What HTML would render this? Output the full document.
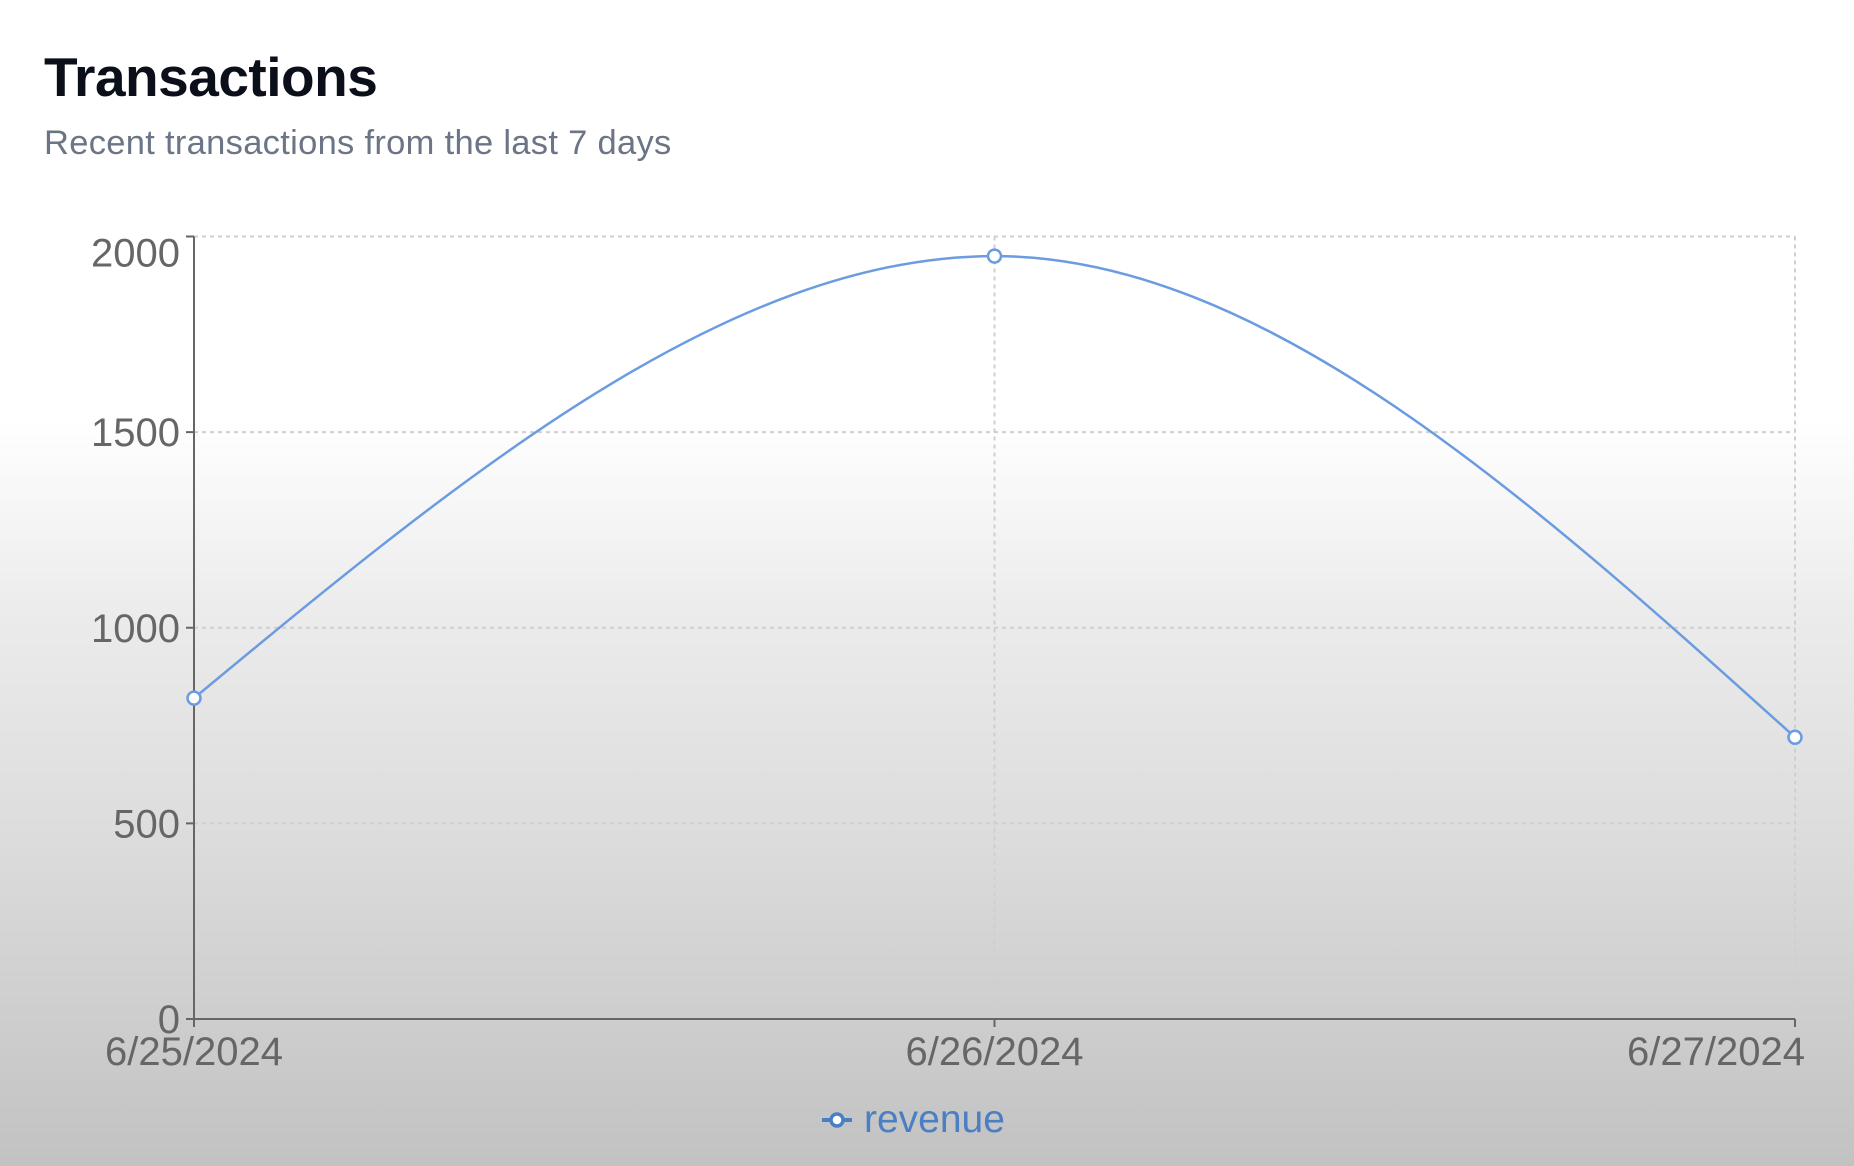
<!DOCTYPE html>
<html><head><meta charset="utf-8">
<style>
html,body{margin:0;padding:0}
body{width:1854px;height:1166px;overflow:hidden;font-family:"Liberation Sans",sans-serif;
background:linear-gradient(#ffffff 0%,#ffffff 36%,#ececec 52%,#dcdcdc 72%,#cdcdcd 88%,#c2c2c2 100%);position:relative}
#title{position:absolute;left:44px;top:45px;font-size:55px;font-weight:bold;color:#0b0f19;letter-spacing:-0.5px;margin:0}
#sub{position:absolute;left:44px;top:124px;font-size:34.5px;color:#6b7585;margin:0;letter-spacing:0.3px}
svg{position:absolute;left:0;top:0}
</style></head>
<body>
<h1 id="title">Transactions</h1>
<p id="sub">Recent transactions from the last 7 days</p>
<svg id="chart" width="1854" height="1166"></svg>
<script>
const categories = ["6/25/2024","6/26/2024","6/27/2024"];
const revenue = [820, 1950, 720];
const yTicks = [0, 500, 1000, 1500, 2000];
const seriesName = "revenue";

const NS="http://www.w3.org/2000/svg";
const svg=document.getElementById('chart');
const L=194,R=1795,T=236.5,B=1019,YMAX=2000;
const xs=i=>L+(R-L)*i/(categories.length-1);
const ys=v=>B-(B-T)*v/YMAX;
function mk(tag,attrs,parent){const e=document.createElementNS(NS,tag);for(const k in attrs)e.setAttribute(k,attrs[k]);(parent||svg).appendChild(e);return e;}

const grid=mk('g',{});


yTicks.forEach(v=>{if(v===0)return;const l=mk('line',{x1:L,x2:R,y1:ys(v),y2:ys(v),stroke:'#cfcfcf','stroke-width':2,'stroke-dasharray':'4 4'},grid);

});
categories.forEach((c,i)=>{if(i===0)return;const l=mk('line',{x1:xs(i),x2:xs(i),y1:T,y2:B,stroke:'#cfcfcf','stroke-width':2,'stroke-dasharray':'4 4'},grid);

});

const ya=mk('g',{});


mk('line',{x1:L,x2:L,y1:T,y2:B,stroke:'#666','stroke-width':2},ya);
yTicks.forEach(v=>{mk('line',{x1:L-8,x2:L,y1:ys(v),y2:ys(v),stroke:'#666','stroke-width':2},ya);
const t=mk('text',{x:L-14,y:(v===YMAX?ys(v)+16:ys(v))+14,'text-anchor':'end','font-size':40,fill:'#666'},ya);t.textContent=v;

});
const xa=mk('g',{});


mk('line',{x1:L,x2:R,y1:B,y2:B,stroke:'#666','stroke-width':2},xa);
categories.forEach((c,i)=>{mk('line',{x1:xs(i),x2:xs(i),y1:B,y2:B+8,stroke:'#666','stroke-width':2},xa);
let anchor='middle',x=xs(i);if(i===categories.length-1){anchor='end';x=R+10;}
const t=mk('text',{x:x,y:B+46,'text-anchor':anchor,'font-size':40,fill:'#666'},xa);t.textContent=c;

});

function monotone(px,py){const n=px.length;const m=[],d=[];
for(let i=0;i<n-1;i++)d.push((py[i+1]-py[i])/(px[i+1]-px[i]));
for(let i=0;i<n;i++){if(i===0||i===n-1)m.push(0);else{const a=d[i-1],b=d[i];if(a*b<=0)m.push(0);else{const h0=px[i]-px[i-1],h1=px[i+1]-px[i];const p=(a*h1+b*h0)/(h0+h1);m.push((Math.sign(a)+Math.sign(b))*Math.min(Math.abs(a),Math.abs(b),0.5*Math.abs(p)));}}}
if(n>2){m[0]=(3*d[0]-m[1])/2;m[n-1]=(3*d[n-2]-m[n-2])/2;}
let s=`M${px[0]},${py[0]}`;
for(let i=0;i<n-1;i++){const dx=(px[i+1]-px[i])/3;s+=`C${px[i]+dx},${py[i]+dx*m[i]} ${px[i+1]-dx},${py[i+1]-dx*m[i+1]} ${px[i+1]},${py[i+1]}`;}
return s;}
const px=revenue.map((v,i)=>xs(i)),py=revenue.map(v=>ys(v));
const line=mk('path',{d:monotone(px,py),fill:'none',stroke:'#6b9be0','stroke-width':2.5});


revenue.forEach((v,i)=>{const c=mk('circle',{cx:xs(i),cy:ys(v),r:6.5,fill:'#fff',stroke:'#6b9be0','stroke-width':2.5});

});

const lg=mk('g',{});


mk('line',{x1:822,x2:852,y1:1120,y2:1120,stroke:'#4a7fc4','stroke-width':4},lg);
mk('circle',{cx:837,cy:1120,r:6,fill:'#fff',stroke:'#4a7fc4','stroke-width':3.5},lg);
const lt=mk('text',{x:864,y:1132,'font-size':39,fill:'#4a7fc4'},lg);lt.textContent=seriesName;
</script>
</body></html>
